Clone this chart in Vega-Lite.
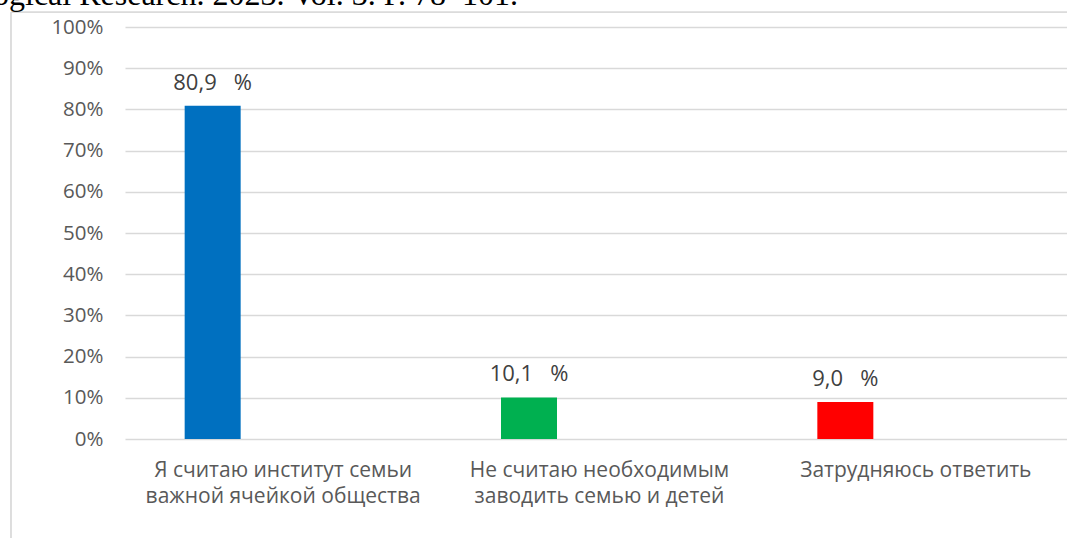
{
  "$schema": "https://vega.github.io/schema/vega-lite/v6.json",
  "autosize": "none",
  "width": 949,
  "height": 412,
  "padding": {"left": 125, "top": 27, "right": 0, "bottom": 99},
  "background": "white",
  "title": {
    "text": "ogical Research. 2023. Vol. 3. P. 78–101.",
    "font": "Liberation Serif",
    "fontSize": 32,
    "fontWeight": "normal",
    "color": "#000000",
    "anchor": "start",
    "frame": "group",
    "baseline": "alphabetic",
    "offset": 0,
    "dx": -132,
    "dy": 25
  },
  "data": {
    "values": [
      {"category": "Я считаю институт семьи важной ячейкой общества", "value": 80.9},
      {"category": "Не считаю необходимым заводить семью и детей", "value": 10.1},
      {"category": "Затрудняюсь ответить", "value": 9.0}
    ]
  },
  "layer": [
    {
      "mark": {"type": "rule", "color": "#d9d9d9", "strokeWidth": 1, "xOffset": -114},
      "encoding": {
        "x": {"datum": "Я считаю институт семьи важной ячейкой общества", "bandPosition": 0, "type": "nominal"},
        "y": {"datum": 103.6, "type": "quantitative"},
        "y2": {"datum": -26}
      }
    },
    {
      "mark": {"type": "rule", "color": "#d9d9d9", "strokeWidth": 1, "xOffset": -114},
      "encoding": {
        "x": {"datum": "Я считаю институт семьи важной ячейкой общества", "bandPosition": 0, "type": "nominal"},
        "x2": {"value": 1100},
        "y": {"datum": 103.6, "type": "quantitative"}
      }
    },
    {
      "mark": {"type": "bar", "width": 56, "xOffset": -70.5},
      "encoding": {
        "x": {
          "field": "category",
          "type": "nominal",
          "sort": null,
          "scale": {"paddingInner": 0, "paddingOuter": 0},
          "axis": {
            "title": null,
            "domain": false,
            "ticks": false,
            "tickSize": 0,
            "labelAngle": 0,
            "labelAlign": "center",
            "labelFont": "Open Sans",
            "labelFontSize": 21,
            "labelColor": "#595959",
            "labelBaseline": "top",
            "labelPadding": 20,
            "labelLineHeight": 26.6,
            "labelLimit": 400,
            "labelExpr": "datum.value == 'Я считаю институт семьи важной ячейкой общества' ? ['Я считаю институт семьи', 'важной ячейкой общества'] : datum.value == 'Не считаю необходимым заводить семью и детей' ? ['Не считаю необходимым', 'заводить семью и детей'] : datum.value"
          }
        },
        "y": {
          "field": "value",
          "type": "quantitative",
          "scale": {"domain": [0, 100], "nice": false},
          "axis": {
            "title": null,
            "values": [0, 10, 20, 30, 40, 50, 60, 70, 80, 90, 100],
            "format": "d",
            "labelExpr": "datum.label + '%'",
            "domain": false,
            "ticks": false,
            "tickSize": 0,
            "labelPadding": 22,
            "labelFont": "Open Sans",
            "labelFontSize": 20.5,
            "labelColor": "#595959",
            "grid": true,
            "gridColor": "#d9d9d9",
            "gridWidth": 1.3
          }
        },
        "color": {
          "field": "category",
          "type": "nominal",
          "scale": {
            "domain": ["Я считаю институт семьи важной ячейкой общества", "Не считаю необходимым заводить семью и детей", "Затрудняюсь ответить"],
            "range": ["#0070C0", "#00B050", "#FF0000"]
          },
          "legend": null
        }
      }
    },
    {
      "mark": {"type": "text", "xOffset": -70.5, "dy": -16, "baseline": "alphabetic", "align": "center", "font": "Open Sans", "fontSize": 22, "color": "#404040"},
      "encoding": {
        "x": {"field": "category", "type": "nominal", "sort": null},
        "y": {"field": "value", "type": "quantitative"},
        "text": {"field": "value", "type": "quantitative", "format": "$.1f"}
      }
    }
  ],
  "config": {
    "view": {"stroke": null},
    "locale": {
      "number": {
        "decimal": ",",
        "thousands": "\u00a0",
        "grouping": [3],
        "currency": ["", "\u00a0\u00a0\u00a0%"]
      }
    }
  }
}
